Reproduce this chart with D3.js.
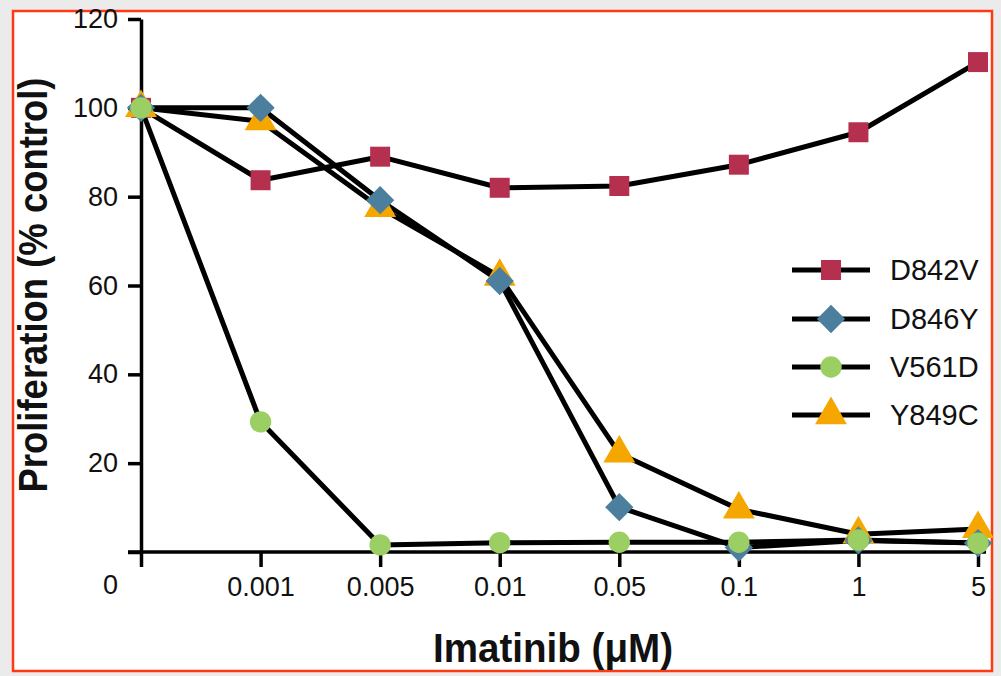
<!DOCTYPE html>
<html>
<head>
<meta charset="utf-8">
<script src="https://cdn.jsdelivr.net/npm/d3@7"></script>
<style>
  html, body { margin: 0; padding: 0; background: #ebebeb; }
  svg { display: block; }
  text { font-family: "Liberation Sans", Arial, Helvetica, sans-serif; fill: #111; }
</style>
</head>
<body>
<svg id="chart" width="1001" height="676"></svg>
<script>
// Imatinib concentrations (µM), plotted as evenly spaced categories
const doses = ["0", "0.001", "0.005", "0.01", "0.05", "0.1", "1", "5"];

// Proliferation (% of control) per KIT mutant
const d842v = [100, 83.7, 89, 82, 82.4, 87.2, 94.5, 110.3];
const d846y = [100, 100, 79.2, 61, 10.1, 1, 2.6, 2];
const v561d = [100, 29.3, 1.6, 2.1, 2.2, 2.2, 2.7, 2];
const y849c = [100, 97, 77.5, 62, 22.2, 9.6, 4, 5.2];

const yTicks = [0, 20, 40, 60, 80, 100, 120];

const series = [
  { name: "D842V", values: d842v, shape: d3.symbolSquare,   color: "#b5304e", size: 400, rot: 0 },
  { name: "D846Y", values: d846y, shape: d3.symbolSquare,   color: "#4b7f9d", size: 400, rot: 45 },
  { name: "V561D", values: v561d, shape: d3.symbolCircle,   color: "#9ccf63", size: 360, rot: 0 },
  { name: "Y849C", values: y849c, shape: d3.symbolTriangle, color: "#f5a700", size: 440, rot: 0 }
];
// marker stacking order (later drawn on top)
const markerOrder = ["D842V", "Y849C", "D846Y", "V561D"];

const svg = d3.select("#chart");

// framed white panel
svg.append("rect")
  .attr("x", 13).attr("y", 11).attr("width", 979).attr("height", 660)
  .attr("fill", "#ffffff").attr("stroke", "#ff3a12").attr("stroke-width", 2.5);

const x = d3.scalePoint().domain(doses).range([141, 978]);
const y = d3.scaleLinear().domain([0, 120]).range([552, 19]);

// y axis
const yAxis = svg.append("g")
  .attr("transform", `translate(${x(doses[0])},0)`)
  .call(d3.axisLeft(y).tickValues(yTicks).tickSize(13).tickSizeOuter(0).tickPadding(10));
yAxis.select(".domain").attr("stroke", "#000").attr("stroke-width", 3.5);
yAxis.selectAll(".tick line").attr("stroke", "#000").attr("stroke-width", 3.5);
yAxis.selectAll(".tick text")
  .style("font-size", "27px")
  .style("font-family", "'Liberation Sans', Arial, sans-serif")
  .attr("fill", "#111");
// the zero label sits down at the level of the dose labels
yAxis.selectAll(".tick").filter(d => d === 0).select("text")
  .attr("dy", "0.32em").attr("y", 33);

// x axis
const xAxis = svg.append("g")
  .attr("transform", `translate(0,${y(0)})`)
  .call(d3.axisBottom(x).tickSize(15).tickSizeOuter(0).tickPadding(10));
xAxis.select(".domain").remove();
xAxis.append("line")
  .attr("x1", x(doses[0]) - 13).attr("x2", x(doses[doses.length - 1]) + 8)
  .attr("y1", 0).attr("y2", 0)
  .attr("stroke", "#000").attr("stroke-width", 3.5);
xAxis.selectAll(".tick line").attr("stroke", "#000").attr("stroke-width", 3.5);
xAxis.selectAll(".tick text")
  .style("font-size", "27px")
  .style("font-family", "'Liberation Sans', Arial, sans-serif")
  .attr("fill", "#111");
// the "0" dose is labelled by the y axis zero
xAxis.selectAll(".tick").filter(d => d === "0").select("text").remove();

// axis titles
svg.append("text")
  .attr("transform", "translate(47,285) rotate(-90)")
  .attr("text-anchor", "middle")
  .attr("font-weight", "bold")
  .attr("font-size", 40)
  .attr("textLength", 415).attr("lengthAdjust", "spacingAndGlyphs")
  .text("Proliferation (% control)");

svg.append("text")
  .attr("x", 553).attr("y", 662)
  .attr("text-anchor", "middle")
  .attr("font-weight", "bold")
  .attr("font-size", 41)
  .attr("textLength", 240).attr("lengthAdjust", "spacingAndGlyphs")
  .text("Imatinib (μM)");

// lines
const line = d3.line()
  .x((d, i) => x(doses[i]))
  .y(d => y(d));

svg.append("g").selectAll("path")
  .data(series)
  .join("path")
  .attr("d", s => line(s.values))
  .attr("fill", "none")
  .attr("stroke", "#000")
  .attr("stroke-width", 5)
  .attr("stroke-linejoin", "round");

// markers
const ordered = markerOrder.map(n => series.find(s => s.name === n));
ordered.forEach(s => {
  svg.append("g").selectAll("path")
    .data(s.values)
    .join("path")
    .attr("d", d3.symbol().type(s.shape).size(s.size))
    .attr("transform", (d, i) => `translate(${x(doses[i])},${y(d)}) rotate(${s.rot})`)
    .attr("fill", s.color);
});

// legend
const legend = svg.append("g");
const legY = [270, 319, 367, 415];
series.forEach((s, i) => {
  const g = legend.append("g").attr("transform", `translate(0,${legY[i]})`);
  g.append("line").attr("x1", 792).attr("x2", 870).attr("y1", 0).attr("y2", 0)
    .attr("stroke", "#000").attr("stroke-width", 5);
  g.append("path")
    .attr("d", d3.symbol().type(s.shape).size(s.size))
    .attr("transform", `translate(831,0) rotate(${s.rot})`)
    .attr("fill", s.color);
  g.append("text").attr("x", 890).attr("y", 0).attr("dy", "0.36em")
    .attr("font-size", 29).text(s.name);
});
</script>
</body>
</html>
